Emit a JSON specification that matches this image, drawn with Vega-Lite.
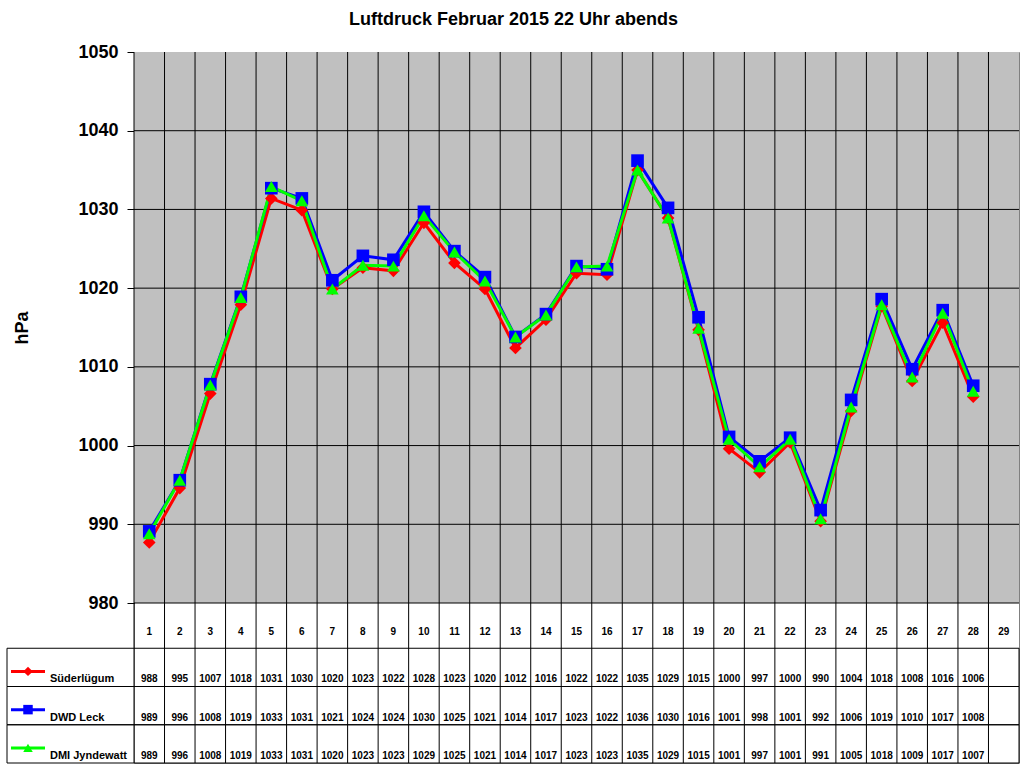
{
  "$schema": "https://vega.github.io/schema/vega-lite/v6.json",
  "width": 885,
  "height": 711,
  "autosize": {"type": "none"},
  "padding": {"left": 134, "top": 52, "right": 5, "bottom": 5},
  "background": "white",
  "config": {"view": {"stroke": "#808080", "strokeWidth": 1}, "font": "Liberation Sans"},
  "title": {"text": "Luftdruck Februar 2015 22 Uhr abends", "font": "Liberation Sans", "fontSize": 18, "fontWeight": "bold", "color": "black", "anchor": "middle", "dx": -63, "offset": 14},
  "datasets": {
    "days": [{"day":1},{"day":2},{"day":3},{"day":4},{"day":5},{"day":6},{"day":7},{"day":8},{"day":9},{"day":10},{"day":11},{"day":12},{"day":13},{"day":14},{"day":15},{"day":16},{"day":17},{"day":18},{"day":19},{"day":20},{"day":21},{"day":22},{"day":23},{"day":24},{"day":25},{"day":26},{"day":27},{"day":28},{"day":29}],
    "stations": [{"station":"Süderlügum"},{"station":"DWD Leck"},{"station":"DMI Jyndewatt"}],
    "pressure": [
      {"day":1,"station":"Süderlügum","hPa":987.7},{"day":2,"station":"Süderlügum","hPa":994.6},{"day":3,"station":"Süderlügum","hPa":1006.6},{"day":4,"station":"Süderlügum","hPa":1017.9},{"day":5,"station":"Süderlügum","hPa":1031.4},{"day":6,"station":"Süderlügum","hPa":1029.9},{"day":7,"station":"Süderlügum","hPa":1019.9},{"day":8,"station":"Süderlügum","hPa":1022.6},{"day":9,"station":"Süderlügum","hPa":1022.2},{"day":10,"station":"Süderlügum","hPa":1028.3},{"day":11,"station":"Süderlügum","hPa":1023.2},{"day":12,"station":"Süderlügum","hPa":1019.9},{"day":13,"station":"Süderlügum","hPa":1012.4},{"day":14,"station":"Süderlügum","hPa":1016.0},{"day":15,"station":"Süderlügum","hPa":1021.9},{"day":16,"station":"Süderlügum","hPa":1021.7},{"day":17,"station":"Süderlügum","hPa":1035.0},{"day":18,"station":"Süderlügum","hPa":1028.9},{"day":19,"station":"Süderlügum","hPa":1014.7},{"day":20,"station":"Süderlügum","hPa":999.6},{"day":21,"station":"Süderlügum","hPa":996.6},{"day":22,"station":"Süderlügum","hPa":1000.4},{"day":23,"station":"Süderlügum","hPa":990.4},{"day":24,"station":"Süderlügum","hPa":1004.4},{"day":25,"station":"Süderlügum","hPa":1017.7},{"day":26,"station":"Süderlügum","hPa":1008.2},{"day":27,"station":"Süderlügum","hPa":1015.6},{"day":28,"station":"Süderlügum","hPa":1006.2},
      {"day":1,"station":"DWD Leck","hPa":989.1},{"day":2,"station":"DWD Leck","hPa":995.6},{"day":3,"station":"DWD Leck","hPa":1007.8},{"day":4,"station":"DWD Leck","hPa":1018.9},{"day":5,"station":"DWD Leck","hPa":1032.7},{"day":6,"station":"DWD Leck","hPa":1031.4},{"day":7,"station":"DWD Leck","hPa":1021.0},{"day":8,"station":"DWD Leck","hPa":1024.1},{"day":9,"station":"DWD Leck","hPa":1023.6},{"day":10,"station":"DWD Leck","hPa":1029.7},{"day":11,"station":"DWD Leck","hPa":1024.7},{"day":12,"station":"DWD Leck","hPa":1021.4},{"day":13,"station":"DWD Leck","hPa":1013.8},{"day":14,"station":"DWD Leck","hPa":1016.7},{"day":15,"station":"DWD Leck","hPa":1022.8},{"day":16,"station":"DWD Leck","hPa":1022.4},{"day":17,"station":"DWD Leck","hPa":1036.2},{"day":18,"station":"DWD Leck","hPa":1030.2},{"day":19,"station":"DWD Leck","hPa":1016.3},{"day":20,"station":"DWD Leck","hPa":1001.1},{"day":21,"station":"DWD Leck","hPa":998.0},{"day":22,"station":"DWD Leck","hPa":1001.0},{"day":23,"station":"DWD Leck","hPa":991.8},{"day":24,"station":"DWD Leck","hPa":1005.8},{"day":25,"station":"DWD Leck","hPa":1018.6},{"day":26,"station":"DWD Leck","hPa":1009.7},{"day":27,"station":"DWD Leck","hPa":1017.2},{"day":28,"station":"DWD Leck","hPa":1007.6},
      {"day":1,"station":"DMI Jyndewatt","hPa":988.8},{"day":2,"station":"DMI Jyndewatt","hPa":995.6},{"day":3,"station":"DMI Jyndewatt","hPa":1007.7},{"day":4,"station":"DMI Jyndewatt","hPa":1018.8},{"day":5,"station":"DMI Jyndewatt","hPa":1032.9},{"day":6,"station":"DMI Jyndewatt","hPa":1031.1},{"day":7,"station":"DMI Jyndewatt","hPa":1019.9},{"day":8,"station":"DMI Jyndewatt","hPa":1022.9},{"day":9,"station":"DMI Jyndewatt","hPa":1022.8},{"day":10,"station":"DMI Jyndewatt","hPa":1029.2},{"day":11,"station":"DMI Jyndewatt","hPa":1024.6},{"day":12,"station":"DMI Jyndewatt","hPa":1020.9},{"day":13,"station":"DMI Jyndewatt","hPa":1013.8},{"day":14,"station":"DMI Jyndewatt","hPa":1016.6},{"day":15,"station":"DMI Jyndewatt","hPa":1022.7},{"day":16,"station":"DMI Jyndewatt","hPa":1022.8},{"day":17,"station":"DMI Jyndewatt","hPa":1035.0},{"day":18,"station":"DMI Jyndewatt","hPa":1028.9},{"day":19,"station":"DMI Jyndewatt","hPa":1014.9},{"day":20,"station":"DMI Jyndewatt","hPa":1000.8},{"day":21,"station":"DMI Jyndewatt","hPa":997.3},{"day":22,"station":"DMI Jyndewatt","hPa":1000.8},{"day":23,"station":"DMI Jyndewatt","hPa":990.7},{"day":24,"station":"DMI Jyndewatt","hPa":1004.9},{"day":25,"station":"DMI Jyndewatt","hPa":1017.9},{"day":26,"station":"DMI Jyndewatt","hPa":1008.7},{"day":27,"station":"DMI Jyndewatt","hPa":1016.8},{"day":28,"station":"DMI Jyndewatt","hPa":1006.9}
    ]
  },
  "layer": [
    {
      "layer": [
        {
          "data": {"name": "days"},
          "mark": {"type": "rect", "color": "#C0C0C0"},
          "encoding": {
            "x": {"field": "day", "type": "ordinal", "scale": {"type": "band", "domain": [1,2,3,4,5,6,7,8,9,10,11,12,13,14,15,16,17,18,19,20,21,22,23,24,25,26,27,28,29], "paddingInner": 0, "paddingOuter": 0}, "axis": null},
            "y": {"datum": 980, "type": "quantitative"},
            "y2": {"datum": 1050}
          }
        },
        {
          "data": {"name": "days"},
          "mark": {"type": "rule", "color": "black", "strokeWidth": 1},
          "encoding": {
            "x": {"field": "day", "type": "ordinal", "bandPosition": 0}
          }
        },
        {
          "data": {"values": [{"hPa": 980}, {"hPa": 990}, {"hPa": 1000}, {"hPa": 1010}, {"hPa": 1020}, {"hPa": 1030}, {"hPa": 1040}]},
          "mark": {"type": "rule", "color": "black", "strokeWidth": 1},
          "encoding": {
            "y": {"field": "hPa", "type": "quantitative"}
          }
        },
        {
          "data": {"name": "pressure"},
          "mark": {"type": "line", "strokeWidth": 3},
          "encoding": {
            "x": {"field": "day", "type": "ordinal"},
            "y": {"field": "hPa", "type": "quantitative", "scale": {"domain": [980, 1050], "range": [551, 0], "zero": false, "nice": false},
              "axis": {"values": [980, 990, 1000, 1010, 1020, 1030, 1040, 1050], "format": "d", "title": "hPa", "titleFont": "Liberation Sans", "titleFontSize": 18, "titleFontWeight": "bold", "titleColor": "black", "titlePadding": 46, "labelFont": "Liberation Sans", "labelFontSize": 18, "labelFontWeight": "bold", "labelColor": "black", "labelPadding": 9, "tickSize": 7, "tickColor": "black", "domainColor": "black", "grid": false, "labelOverlap": false, "labelFlush": false}},
            "color": {"field": "station", "type": "nominal", "scale": {"domain": ["Süderlügum", "DWD Leck", "DMI Jyndewatt"], "range": ["#FF0000", "#0000FF", "#00FF00"]}, "legend": null}
          }
        },
        {
          "data": {"name": "pressure"},
          "mark": {"type": "point", "filled": true, "opacity": 1, "size": 160},
          "encoding": {
            "x": {"field": "day", "type": "ordinal"},
            "y": {"field": "hPa", "type": "quantitative"},
            "color": {"field": "station", "type": "nominal", "legend": null},
            "shape": {"field": "station", "type": "nominal", "scale": {"domain": ["Süderlügum", "DWD Leck", "DMI Jyndewatt"], "range": ["diamond", "square", "triangle-up"]}, "legend": null}
          }
        }
      ]
    },
    {
      "layer": [
        {
          "data": {"name": "days"},
          "mark": {"type": "text", "font": "Liberation Sans", "fontSize": 10, "fontWeight": "bold", "color": "black", "baseline": "middle", "dy": 3},
          "encoding": {
            "x": {"field": "day", "type": "ordinal", "scale": {"type": "band", "domain": [1,2,3,4,5,6,7,8,9,10,11,12,13,14,15,16,17,18,19,20,21,22,23,24,25,26,27,28,29], "paddingInner": 0, "paddingOuter": 0}, "axis": null},
            "y": {"datum": "day", "type": "nominal", "scale": {"type": "band", "domain": ["day", "Süderlügum", "DWD Leck", "DMI Jyndewatt"], "range": [558, 711], "paddingInner": 0, "paddingOuter": 0}, "axis": null},
            "text": {"field": "day", "type": "ordinal"}
          }
        },
        {
          "data": {"name": "pressure"},
          "mark": {"type": "text", "font": "Liberation Sans", "fontSize": 10, "fontWeight": "bold", "color": "black", "baseline": "middle", "dy": 12},
          "encoding": {
            "x": {"field": "day", "type": "ordinal"},
            "y": {"field": "station", "type": "nominal"},
            "text": {"field": "hPa", "type": "quantitative", "format": ".0f"}
          }
        }
      ]
    },
    {
      "data": {"name": "stations"},
      "layer": [
        {
          "mark": {"type": "rect", "fill": "transparent", "stroke": "black", "strokeWidth": 1},
          "encoding": {
            "x": {"datum": 0, "type": "quantitative", "scale": {"domain": [0, 1012], "range": [-127, 885], "zero": false, "nice": false}, "axis": null},
            "x2": {"datum": 1012},
            "y": {"field": "station", "type": "nominal", "scale": {"type": "band", "domain": ["day", "Süderlügum", "DWD Leck", "DMI Jyndewatt"], "range": [558, 711], "paddingInner": 0, "paddingOuter": 0}, "axis": null}
          }
        },
        {
          "mark": {"type": "rule", "strokeWidth": 3, "yOffset": 4},
          "encoding": {
            "x": {"datum": 4, "type": "quantitative"},
            "x2": {"datum": 38},
            "y": {"field": "station", "type": "nominal", "bandPosition": 0.5},
            "color": {"field": "station", "type": "nominal", "legend": null}
          }
        },
        {
          "mark": {"type": "point", "filled": true, "opacity": 1, "size": 90, "yOffset": 4},
          "encoding": {
            "x": {"datum": 21, "type": "quantitative"},
            "y": {"field": "station", "type": "nominal", "bandPosition": 0.5},
            "color": {"field": "station", "type": "nominal", "legend": null},
            "shape": {"field": "station", "type": "nominal", "legend": null}
          }
        },
        {
          "mark": {"type": "text", "align": "left", "baseline": "middle", "dy": 12, "font": "Liberation Sans", "fontSize": 11, "fontWeight": "bold", "color": "black"},
          "encoding": {
            "x": {"datum": 43, "type": "quantitative"},
            "y": {"field": "station", "type": "nominal"},
            "text": {"field": "station", "type": "nominal"}
          }
        }
      ]
    }
  ],
  "resolve": {"scale": {"x": "independent", "y": "independent"}}
}
